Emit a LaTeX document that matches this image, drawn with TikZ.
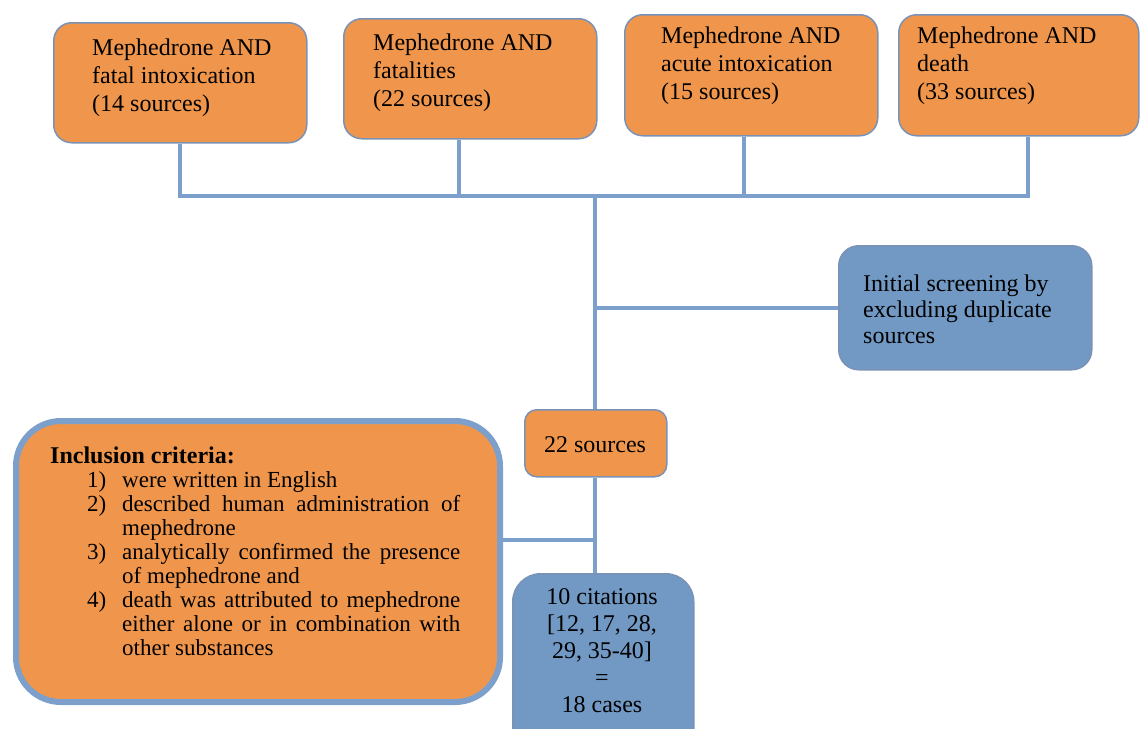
\documentclass[tikz,border=0pt]{standalone}
\usepackage{fontspec}
\setmainfont{Liberation Serif}
\usetikzlibrary{calc,backgrounds}
\definecolor{orfill}{RGB}{239,150,76}
\definecolor{blfill}{RGB}{113,153,196}
\definecolor{lnblue}{RGB}{124,160,203}
\definecolor{bdr}{RGB}{122,146,182}
\newcommand\critem[2]{\par\hangindent=72pt\hangafter=1\hspace*{37pt}\makebox[35pt][l]{#1}#2}
\tikzset{
  obox/.style={draw=bdr, line width=1.5pt, fill=orfill, rounded corners=18pt, inner sep=0pt, anchor=north west},
  bbox/.style={draw=bdr, line width=1.5pt, fill=blfill, rounded corners=20pt, inner sep=0pt, anchor=north west},
  ibox/.style={draw=lnblue, line width=6pt, fill=orfill, rounded corners=45pt, inner sep=0pt, anchor=north west},
  txt/.style={inner sep=0pt, align=left, font=\fontsize{24}{28}\selectfont, anchor=base west},
  ctxt/.style={inner sep=0pt, align=center, font=\fontsize{24}{27}\selectfont, anchor=base},
  conn/.style={draw=lnblue, line width=4pt},
}
\begin{document}
\begin{tikzpicture}[x=1pt,y=-1pt]
\useasboundingbox (0,0) rectangle (1140,728);
% boxes
\node[obox, minimum width=253pt, minimum height=120pt] (b1) at (53,22) {};
\node[obox, minimum width=253pt, minimum height=120pt] (b2) at (343,18) {};
\node[obox, minimum width=253pt, minimum height=121pt] (b3) at (624,14) {};
\node[obox, minimum width=240pt, minimum height=121pt] (b4) at (898,14) {};
\node[bbox, minimum width=253pt, minimum height=124pt] (scr) at (838,245) {};
\node[obox, minimum width=142pt, minimum height=67pt, rounded corners=12pt] (s22) at (524,409) {};
\node[ibox, minimum width=484pt, minimum height=281pt] (inc) at (13,418) {};
\node[bbox, minimum width=181pt, minimum height=190pt, rounded corners=28pt] (cit) at (512,573) {};
% texts (base anchor = baseline of the last line)
\node[txt] (t1) at (92,111) {Mephedrone AND\\fatal intoxication\\(14 sources)};
\node[txt] (t2) at (373,106) {Mephedrone AND\\fatalities\\(22 sources)};
\node[txt] (t3) at (661,99) {Mephedrone AND\\acute intoxication\\(15 sources)};
\node[txt] (t4) at (917,99) {Mephedrone AND\\death\\(33 sources)};
\node[txt, font=\fontsize{24}{26}\selectfont] (tscr) at (863,343) {Initial screening by\\excluding duplicate\\sources};
\node[ctxt] (t22) at (595,452) {22 sources};
\node[ctxt] (tcit) at (602,712) {10 citations\\{}[12, 17, 28,\\29, 35-40]\\=\\18 cases};
\node[inner sep=0pt, anchor=north west, text width=410pt, align=justify,
      font=\fontsize{23}{24}\selectfont] (tinc) at (50,446) {%
  \hyphenpenalty=10000\exhyphenpenalty=10000\parindent=0pt
  \rule{0pt}{17pt}{\fontsize{24}{24}\selectfont\textbf{Inclusion criteria:}}%
  \critem{1)}{were written in English}%
  \critem{2)}{described human administration of mephedrone}%
  \critem{3)}{analytically confirmed the presence of mephedrone and}%
  \critem{4)}{death was attributed to mephedrone either alone or in combination with other substances}\par};
% connectors
\coordinate (j) at (595,196);
\coordinate (k) at (595,540);
\begin{pgfonlayer}{background}
\draw[conn] (b1.south) |- (j);
\draw[conn] ($(b2.south west)+(116,0)$) coordinate (c2) -- (c2 |- j);
\draw[conn] ($(b3.south west)+(120,0)$) coordinate (c3) -- (c3 |- j);
\draw[conn] (j) -| ($(b4.south west)+(130,0)$);
\draw[conn] (j) -- (j |- s22.north);
\draw[conn] (j |- scr.west) -- (scr.west);
\draw[conn] (s22.south -| j) -- (j |- cit.north);
\draw[conn] (inc.east |- k) -- (k);
\end{pgfonlayer}
\end{tikzpicture}
\end{document}
